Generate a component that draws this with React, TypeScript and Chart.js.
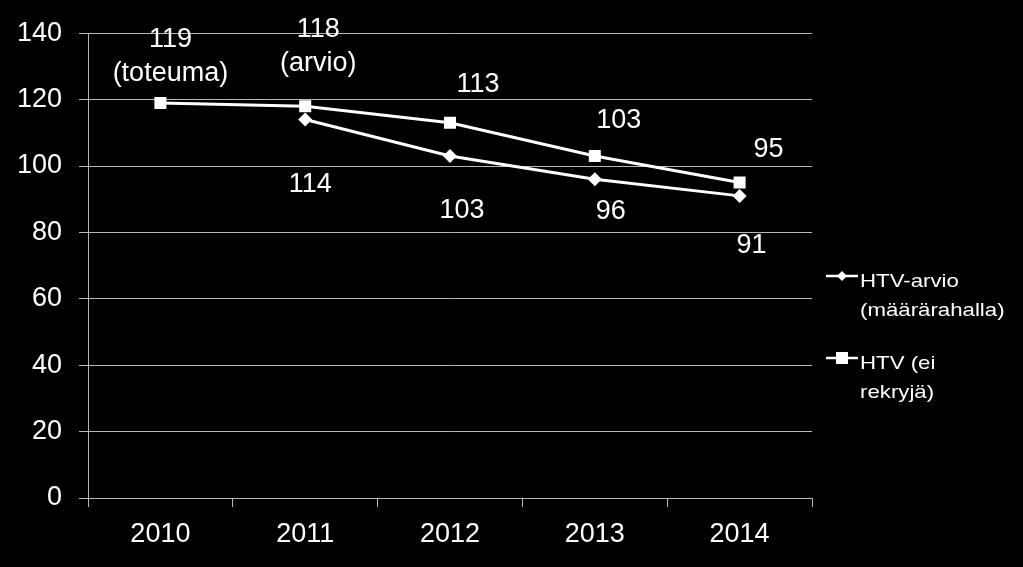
import React, { useEffect, useRef } from "react";
import { Chart, registerables } from "chart.js";

Chart.register(...registerables);

const categories = ["2010", "2011", "2012", "2013", "2014"];
const htvArvio: (number | null)[] = [null, 114, 103, 96, 91];
const htvEiRekry: number[] = [119, 118, 113, 103, 95];
const seriesNames = [["HTV-arvio", "(määrärahalla)"], ["HTV (ei", "rekryjä)"]];
const arvioLabels = ["", "114", "103", "96", "91"];
const rekryLabels = [["119", "(toteuma)"], ["118", "(arvio)"], ["113"], ["103"], ["95"]];
const arvioLabelOffsets = [[0, 0], [5, 65], [12, 55], [16, 32], [12, 50]];
const rekryLabelOffsets = [[10, -63], [13, -77], [28, -38], [24, -35], [29, -33]];
const yTicks = [0, 20, 40, 60, 80, 100, 120, 140];

const FONT = "'Liberation Sans', Arial, sans-serif";

const labelPlugin = {
  id: "pointLabels",
  afterDatasetsDraw(chart: any) {
    const ctx = chart.ctx;
    ctx.save();
    ctx.fillStyle = "#ffffff";
    ctx.font = `27px ${FONT}`;
    ctx.textAlign = "center";
    ctx.textBaseline = "middle";
    const m0 = chart.getDatasetMeta(0);
    const m1 = chart.getDatasetMeta(1);
    arvioLabels.forEach((t, i) => {
      if (!t || htvArvio[i] == null) return;
      const p = m0.data[i];
      ctx.fillText(t, p.x + arvioLabelOffsets[i][0], p.y + arvioLabelOffsets[i][1]);
    });
    rekryLabels.forEach((lines, i) => {
      const p = m1.data[i];
      lines.forEach((t, j) => {
        ctx.fillText(t, p.x + rekryLabelOffsets[i][0], p.y + rekryLabelOffsets[i][1] + j * 34);
      });
    });
    // legend
    const lx = chart.chartArea.right + 14;
    const ys = [276, 358];
    ctx.textAlign = "left";
    ctx.textBaseline = "alphabetic";
    ys.forEach((y, k) => {
      ctx.strokeStyle = "#ffffff";
      ctx.lineWidth = 2.5;
      ctx.beginPath();
      ctx.moveTo(lx, y);
      ctx.lineTo(lx + 32, y);
      ctx.stroke();
      ctx.fillStyle = "#ffffff";
      const cx = lx + 16;
      if (k === 0) {
        ctx.beginPath();
        ctx.moveTo(cx, y - 5);
        ctx.lineTo(cx + 5, y);
        ctx.lineTo(cx, y + 5);
        ctx.lineTo(cx - 5, y);
        ctx.closePath();
        ctx.fill();
      } else {
        ctx.fillRect(cx - 6, y - 6, 12, 12);
      }
      seriesNames[k].forEach((t, j) => {
        ctx.save();
        ctx.translate(lx + 34, y + 11 + j * 29);
        ctx.scale(1.17, 1);
        ctx.font = `19px ${FONT}`;
        ctx.fillText(t, 0, 0);
        ctx.restore();
      });
    });
    ctx.restore();
  },
};

export default function App() {
  const ref = useRef<HTMLCanvasElement | null>(null);
  useEffect(() => {
    if (!ref.current) return;
    const chart = new Chart(ref.current, {
      type: "line",
      data: {
        labels: categories,
        datasets: [
          {
            label: seriesNames[0].join(" "),
            data: htvArvio,
            borderColor: "#ffffff",
            backgroundColor: "#ffffff",
            borderWidth: 3,
            pointStyle: "rectRot",
            pointRadius: 7,
            pointBorderWidth: 0,
            spanGaps: false,
          },
          {
            label: seriesNames[1].join(" "),
            data: htvEiRekry,
            borderColor: "#ffffff",
            backgroundColor: "#ffffff",
            borderWidth: 3,
            pointStyle: "rect",
            pointRadius: 8.5,
            pointBorderWidth: 0,
          },
        ],
      },
      options: {
        animation: false,
        responsive: false,
        maintainAspectRatio: false,
        layout: { padding: { top: 32, right: 211, left: 0, bottom: 0 } },
        plugins: { legend: { display: false }, tooltip: { enabled: false } },
        scales: {
          x: {
            offset: true,
            grid: {
              offset: true,
              drawOnChartArea: false,
              drawTicks: true,
              tickLength: 9,
              color: "#b8b8b8",
            },
            border: { color: "#b8b8b8", width: 1 },
            ticks: { color: "#ffffff", font: { size: 27, family: FONT }, padding: 11 },
            afterFit(scale: any) {
              scale.height = 69;
            },
          },
          y: {
            min: 0,
            max: 140,
            afterBuildTicks(scale: any) {
              scale.ticks = yTicks.map((v) => ({ value: v }));
            },
            grid: { color: "#b8b8b8", tickLength: 9, lineWidth: 1 },
            border: { color: "#b8b8b8", width: 1 },
            ticks: { color: "#ffffff", font: { size: 27, family: FONT }, padding: 17 },
            afterFit(scale: any) {
              scale.width = 88;
            },
          },
        },
      },
      plugins: [labelPlugin],
    });
    return () => chart.destroy();
  }, []);
  return (
    <div style={{ position: "absolute", left: 0, top: 0, width: 1023, height: 567, background: "#000000" }}>
      <canvas ref={ref} width={1023} height={567} style={{ display: "block" }} />
    </div>
  );
}
